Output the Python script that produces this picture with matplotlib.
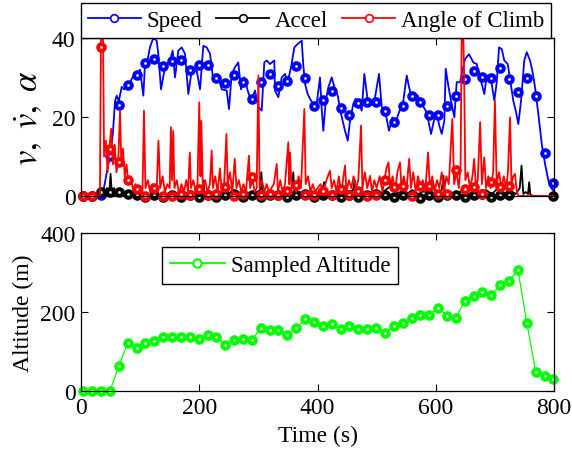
import numpy as np
import matplotlib
matplotlib.use("Agg")
import matplotlib.pyplot as plt
from matplotlib.lines import Line2D

plt.rcParams['font.family'] = ['Liberation Serif', 'DejaVu Serif']
plt.rcParams['mathtext.fontset'] = 'stix'
plt.rcParams['font.size'] = 17

# sample clock (s) shared by the marker series
sample_t = [4, 19, 34, 49, 64, 79, 94, 109, 124, 139, 154, 169, 184, 199,
            214, 229, 244, 259, 274, 289, 304, 319, 334, 349, 364, 379, 394,
            409, 424, 439, 454, 469, 484, 499, 514, 529, 544, 559, 574, 589,
            604, 619, 634, 649, 664, 679, 694, 709, 724, 739, 754, 769, 784, 799]

speed_s = [0, 0, 0.3, 10.2, 23.1, 28.2, 30.7, 33.7, 34.7, 32.8, 34.1, 34.3, 32.0,
           33.2, 33.2, 29.9, 28.6, 30.7, 28.8, 24.6, 28.8, 31.0, 27.9, 29.2, 33.0,
           29.8, 22.9, 24.4, 26.7, 22.3, 20.6, 23.5, 23.7, 23.9, 21.6, 18.8, 22.7,
           25.2, 23.9, 20.5, 20.4, 22.7, 25.2, 29.6, 31.7, 30.1, 29.8, 32.3, 29.6,
           26.3, 29.8, 25.2, 11.0, 3.3]
accel_s = [0, 0, 1.0, 1.0, 1.0, 0.5, 0.2, -0.3, 0.3, -0.3, 0.2, -0.3, 0.3, -0.3,
           0.2, -0.3, 0.3, 0.5, -0.2, 0.3, -0.3, 0.2, 0.3, -0.3, 0.3, 0.5, -0.3,
           0.3, 0.2, -0.3, 0.3, -0.2, 0.3, 0.5, 0.3, -0.3, 0.2, 0.3, -0.5, 0.3,
           -0.2, 0.3, 0.2, -0.3, 0.3, 0.5, -0.3, 0.3, 0.3,
           np.nan, np.nan, np.nan, np.nan, 0]
climb_s = [0, 0, 37.8, 11.9, 8.5, 4.0, 1.8, 0, 2.0, 0, 0, 0.5, 0.3, 1.8, 0.3,
           0.5, 2.4, 0, 0.5, 4.9, 0.3, 0.5, 0.3, 1.3, 2.8, 0.3, 0.3, 1.3, 0.3,
           1.8, 0.3, 1.2, 0, 0.3, 4.1, 2.2, 2.6, 0, 2.6, 2.6, 0.5, 0.5, 6.5, 1.7,
           2.2, 0.5, 3.5, 2.2, 2.6, np.nan, np.nan, np.nan, np.nan, np.nan]
altitude_s = [0, 0, 0, 0, 64, 121, 110, 121, 126, 136, 136, 138, 137, 132, 142,
              138, 117, 130, 132, 129, 159, 154, 154, 142, 159, 182, 174, 164,
              170, 157, 164, 157, 157, 159, 147, 164, 172, 186, 192, 193, 210,
              191, 185, 229, 241, 251, 244, 268, 279, 306, 172, 49, 39, 30]

# raw 1 Hz traces, read at their turning points
speed_t = [0, 36, 40, 46, 50, 54, 57.5, 60.4, 64, 68.8, 73, 77.3, 81, 85.7, 91.3,
           95, 99.8, 105.4, 108.2, 112, 116.7, 122.3, 128, 130.7, 135.3, 142,
           150.5, 155, 159, 164.6, 170.3, 175.9, 181.5, 187.2, 195.7, 201.3,
           206.8, 212.6, 218.2, 223.8, 232.2, 238, 246.4, 250.3, 254.9, 260.5,
           266, 270.6, 276.2, 281.9, 287.5, 294.3, 299.9, 305.6, 310, 314.1,
           319.7, 326.9, 328.1, 333.7, 339.4, 345, 349.6, 355.2, 360.8, 366.5,
           373.3, 376, 378.9, 383.4, 387.3, 392.9, 398.6, 404.2, 407.1, 409.8,
           413.9, 418.3, 424, 429.6, 434.2, 439.7, 446.5, 451.1, 455, 460.5,
           464.6, 470.2, 474.8, 479.2, 484.9, 491.7, 497.3, 504, 508.6, 515.3,
           520.9, 526.5, 531.1, 537.9, 545.1, 550.9, 553.6, 558.2, 563.7, 569.5,
           576.2, 583, 587.4, 592, 597.5, 601.6, 606, 610.1, 614.5, 616.8, 621.2,
           625.8, 631.4, 635.4, 641, 649.5, 656.2, 663.5, 669.3, 674.9, 682.1,
           686.2, 690.1, 694.6, 699, 703.1, 707, 711.5, 715.9, 721.7, 727.3,
           731.1, 735.2, 739.6, 744.2, 749.7, 753.8, 759.4, 763.3, 767.9, 773.4,
           779.2, 784.8, 790.4, 796.1, 800]
speed_v = [0, 0, 3, 8, 10, 16, 24, 25.4, 24, 27.6, 27, 28.4, 28, 29.6, 30.9,
           30.5, 32, 25.4, 33.4, 34, 37.7, 40, 39.3, 36, 27, 32.6,
           34.3, 36.8, 30, 36.8, 37.6, 36, 25.8, 31.7, 31.7, 27,
           38, 37.6, 36, 29.2, 30, 27, 26.7, 22, 30.9, 32.6,
           33.8, 27, 30, 26.7, 24.1, 26.7, 22.5, 21.6, 33.8, 34.3,
           33.4, 34.3, 26.7, 25, 30, 30.9, 28.8, 32.6, 37.6, 38.5,
           39.3, 33, 28.4, 25.8, 24.6, 23.3, 23.3, 30, 22, 16.5,
           24.1, 27.5, 30, 27, 25.4, 20.8, 16.5, 14, 19.1, 23.3,
           24.6, 23.3, 21.6, 30.9, 24.1, 24.1, 25, 30.9, 22.5, 20.8,
           16.5, 19.9, 18.2, 21.2, 24.1, 30.5, 28.4, 25.4, 25.8, 25.4,
           23.3, 21.6, 19.1, 15.7, 19.5, 20.8, 17.8, 15.7, 19.1, 32.2, 27.9,
           24.1, 19.9, 28.8, 28.8, 34.7, 35.9, 33.8, 33.4, 30, 25.8,
           30.5, 30, 28.4, 24.1, 28.8, 37.6, 37.2, 34.3, 33.4, 27.9,
           24.1, 21.6, 18.2, 24.1, 34.3, 36.4, 34.3, 31.7, 27.5, 20.8,
           13.2, 8.1, 3.9, 1.8, 1.3]

accel_t = [0, 36, 40, 44, 48, 50, 52, 56, 60, 65, 70, 75, 82, 90, 100, 110, 120,
           130, 140, 150, 160, 170, 180, 190, 200, 205, 207, 209, 215, 225, 235,
           245, 255, 265, 275, 285, 295, 303, 305, 307, 315, 325, 335, 345, 352,
           357, 359, 361, 370, 380, 390, 400, 408, 411, 413, 422, 432, 442, 452,
           460, 463, 465, 475, 485, 495, 505, 515, 528, 530, 540, 550, 560, 570,
           580, 590, 600, 610, 613, 615, 625, 635, 645, 655, 665, 675, 685, 695,
           705, 715, 725, 735, 742, 745, 748, 752, 756, 758, 760, 765, 800]
accel_v = [0, 0, 1, 2, 1, 5.6, 1, 2, 0.5, 1.5, 0.5, 1, 0.3, 0.8, 0.2, 0.6, 0,
           0.5, 0.2, 0.8, 0, 0.6, 0.2, 1, 0.3, 1.5, 3.9, 0.5, 0.8, 0.2, 1,
           0.3, 0.8, 0.2, 1.2, 0.3, 0.8, 1.5, 6, 0.5, 1, 0.3, 1, 0.3, 1.5,
           2, 6, 0.5, 1, 0.3, 1.2, 0.3, 1.5, 3.5, 0.5, 1, 0.3, 1.5, 0.5,
           1.5, 4, 0.5, 1, 0.3, 1.2, 0.5, 1.5, 3, 0.5, 1, 0.3, 1.5, 0.5,
           1.2, 0.3, 1, 1.5, 5.1, 0.5, 1, 0.3, 1.5, 0.5, 1, 0.3, 1.5, 0.5,
           2, 0.5, 1.5, 0.5, 2, 7.7, 0.5, 1, 0.5, 3.5, 0.3, 0, 0]

climb_t = [0, 32, 34, 37, 39, 42, 45, 48, 51, 54, 57, 60, 63, 66, 68, 71, 74, 77,
           80, 84, 88, 92, 96, 100, 104, 106.5, 109, 113, 117, 121, 125, 128,
           131, 134, 138, 142, 146, 150, 152, 154, 156, 158, 162, 166, 170, 174,
           178, 181, 184, 186, 190, 194, 197, 200, 202, 203.5, 206, 210, 214,
           218, 221, 223, 227, 231, 235, 238, 242, 246, 248, 252, 256, 260, 263,
           267, 271, 275, 279, 284, 286, 290, 294, 297, 300, 302, 306, 310, 314,
           318, 322, 326, 331, 333, 337, 341, 345, 350.6, 352, 353.5, 356, 360,
           364, 368, 372, 377.7, 380, 384, 388, 392, 396, 400, 405, 410, 415,
           421, 424, 428, 432, 436, 440, 446.5, 449, 453, 457, 461, 465, 469,
           473.6, 476, 480, 484, 489, 492, 496, 500, 505, 510, 513, 517, 520,
           523, 527, 531, 535, 539.5, 542, 546, 550, 555, 558, 562, 566, 570,
           574, 578, 582, 587, 590, 594, 598, 602, 606, 610, 614, 618, 622, 628,
           631, 635, 639, 642, 644, 646, 648, 650, 654, 658, 662, 665, 668, 671,
           675, 678, 682, 685, 689, 693, 697, 700, 703, 707, 711, 715, 719, 722,
           725.6, 728, 731, 734, 737, 740, 800]
climb_v = [0, 0, 45, 45, 10, 14, 6, 12, 17, 8, 13, 6, 9, 21.6, 9, 12, 5, 8,
           3, 5, 1.5, 3, 1, 2.5, 1, 21.6, 2, 4, 1, 3, 0.5, 2,
           14, 2, 5, 1, 3, 2, 17.4, 4, 16.5, 2, 4, 0.5, 3, 1,
           4, 1, 11, 2, 4, 1, 3, 23.7, 5, 19, 2, 4, 1,
           3, 11.5, 2, 5, 1, 7, 1, 3, 15.7, 3, 6, 1, 9.4, 2,
           4, 1, 3, 1, 10.2, 2, 4, 1, 2, 30.5, 2, 4, 1, 3,
           1, 2, 3, 8.1, 1, 4, 1, 3, 13.6, 3, 11, 2, 3,
           1, 5, 2, 22, 3, 5, 1, 3, 1, 2, 3, 1, 4,
           6.4, 2, 4, 1, 5, 1, 7.7, 1, 4, 2, 5, 2, 4,
           17.8, 2, 6, 2, 5.1, 1, 4, 2, 5, 1, 4, 7.3, 8.5,
           2, 5, 1, 6, 8.5, 2, 5, 1, 9.4, 2, 6, 1, 5,
           2, 4, 1, 11, 2, 5, 1, 4, 2, 6, 1, 5, 3, 19.5,
           3, 6, 2, 8, 45, 45, 30, 4, 6, 2, 5, 9.4, 2, 4,
           18.7, 3, 9.8, 2, 5, 2, 6, 24.1, 3, 6, 2, 5, 2, 6,
           19.9, 3, 5, 5.6, 1, 0, 0]

ring = dict(marker='o', ms=4.8, mew=2.8, mfc='white', ls='none', clip_on=False)

fig = plt.figure(figsize=(5.72, 4.52), dpi=100)
ax1 = fig.add_axes([0.1416, 0.5642, 0.827, 0.3496])
ax2 = fig.add_axes([0.1416, 0.1327, 0.827, 0.3496])

# speed, acceleration and climb angle
ax1.plot(speed_t, speed_v, color='b', lw=1.3)
ax1.plot(sample_t, speed_s, color='b', mec='b', **ring)
ax1.plot(accel_t, accel_v, color='k', lw=1.3)
ax1.plot(sample_t, accel_s, color='k', mec='k', **ring)
ax1.plot(climb_t, climb_v, color='r', lw=1.3)
ax1.plot(sample_t, climb_s, color='r', mec='r', **ring)
ax1.set_xlim(0, 800)
ax1.set_ylim(0, 40)
ax1.set_yticks([0, 20, 40])
ax1.set_xticks([0, 200, 400, 600, 800])
ax1.set_xticklabels([])
ax1.set_ylabel(r'$v,\ \dot{v},\ \alpha$', fontsize=25, labelpad=4)

handles = [Line2D([], [], color=c, lw=1.3, marker='o', ms=5.5, mew=1.2, mfc='white')
           for c in ('b', 'k', 'r')]
leg = ax1.legend(handles, ['Speed', 'Accel', 'Angle of Climb'], ncol=3,
                 loc='lower left', bbox_to_anchor=(0, 1.0), borderaxespad=0,
                 handlelength=2.3, handletextpad=0.25, columnspacing=0.62,
                 fancybox=False, edgecolor='k', framealpha=1,
                 borderpad=0.3, fontsize=16.5)
leg.get_frame().set_linewidth(1.0)

# sampled altitude
ax2.plot(sample_t, altitude_s, color='lime', lw=0.9)
ax2.plot(sample_t, altitude_s, color='lime', mec='lime', **ring)
ax2.set_xlim(0, 800)
ax2.set_ylim(0, 400)
ax2.set_xticks([0, 200, 400, 600, 800])
ax2.set_yticks([0, 200, 400])
ax2.set_xlabel('Time (s)', labelpad=5)
ax2.set_ylabel('Altitude (m)', labelpad=4)
h2 = Line2D([], [], color='lime', lw=1.3, marker='o', ms=6, mew=1.5, mfc='white')
leg2 = ax2.legend([h2], ['Sampled Altitude'], loc='upper left',
                  bbox_to_anchor=(0.171, 0.911), borderaxespad=0,
                  handlelength=2.4, handletextpad=0.25, fancybox=False,
                  edgecolor='k', framealpha=1, borderpad=0.35, fontsize=16.5)
leg2.get_frame().set_linewidth(1.0)

for ax in (ax1, ax2):
    ax.tick_params(direction='in', top=True, right=True, length=5, width=0.8,
                   labelsize=17, pad=4)
    for s in ax.spines.values():
        s.set_linewidth(0.9)

fig.savefig('out.png', dpi=100)
